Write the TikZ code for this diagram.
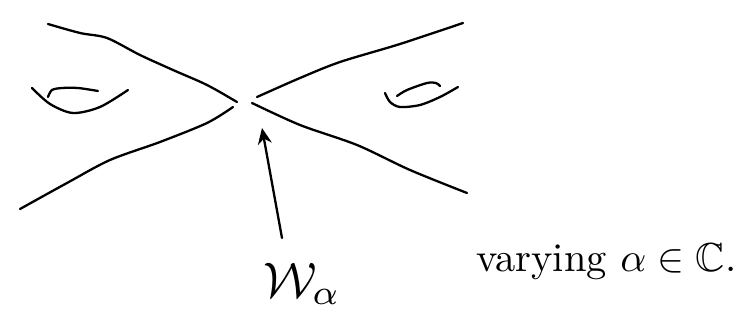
\documentclass[tikz,border=0pt]{standalone}
\usepackage{amsmath,amssymb}
\usetikzlibrary{arrows.meta}
\begin{document}
\begin{tikzpicture}[x=1pt,y=-1pt,
  stroke/.style={line width=2.3pt,line cap=round,line join=round},
  lbl/.style={inner sep=0pt}]
\useasboundingbox (0,0) rectangle (751,328);
% four branches of the curve
\draw[stroke] plot[smooth] coordinates {(48,24) (80,33) (107,38) (140,55) (173,70) (207,85) (237,102)};
\draw[stroke] plot[smooth] coordinates {(20,209) (67,183) (110,160) (160,142) (207,123) (233,107)};
\draw[stroke] plot[smooth] coordinates {(257,97) (300,78) (340,62) (400,44) (463,23)};
\draw[stroke] plot[smooth] coordinates {(252,103) (300,125) (357,145) (410,170) (467,193)};
% handles
\draw[stroke] plot[smooth] coordinates {(32,88) (50,104) (73,113) (100,107) (128,90)};
\draw[stroke] plot[smooth] coordinates {(48,97) (52,90) (62,88) (78,88) (98,91)};
\draw[stroke] plot[smooth] coordinates {(385,93) (390,102) (400,107) (420,105) (440,97) (458,87)};
\draw[stroke] plot[smooth] coordinates {(397,96) (407,90) (427,83) (436,83) (440,86)};
% labels
\node[lbl] (w) at (302,284) {\scalebox{5}{$\mathcal{W}_{\alpha}$}};
\node[lbl,anchor=west] (v) at (476,262) {\scalebox{4.05}{varying $\alpha\in\mathbb{C}$.}};
% arrow
\coordinate (tail) at (282,238);
\coordinate (tip) at (262,128);
\draw[stroke,-{Stealth[length=16pt,width=14pt]}] (tail) -- (tip);
\end{tikzpicture}
\end{document}
